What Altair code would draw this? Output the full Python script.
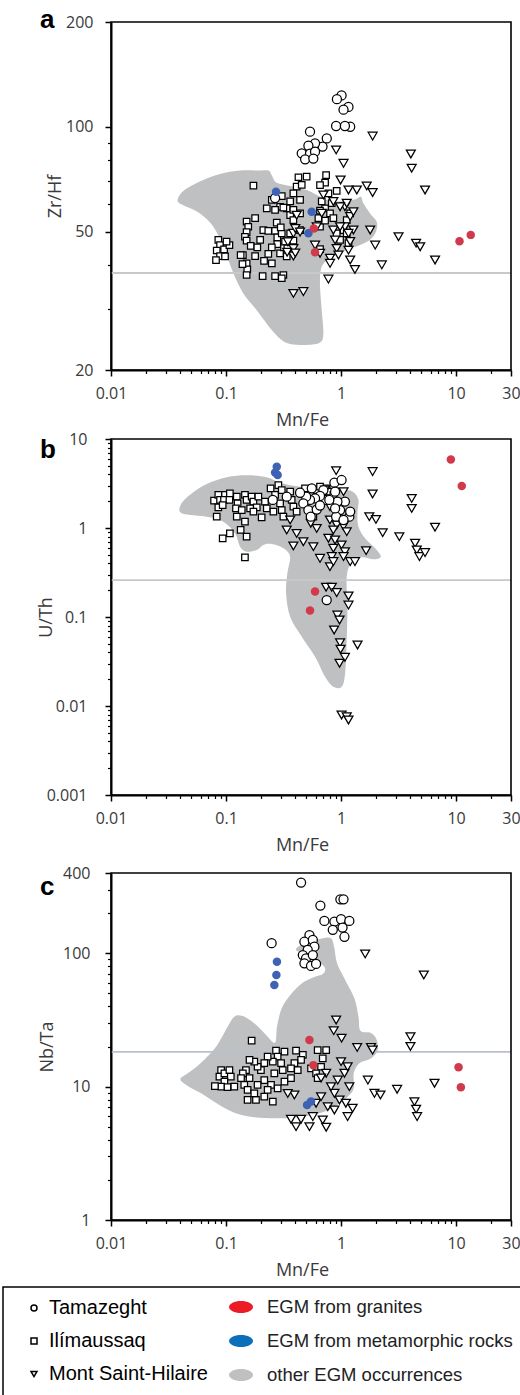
import altair as alt
import pandas as pd

# ---------------------------------------------------------------- categories
sites = ["Tamazeght", "Ilímaussaq", "Mont Saint-Hilaire"]
groups = ["EGM from granites", "EGM from metamorphic rocks", "other EGM occurrences"]

# ---------------------------------------------------------------- panel a : Zr/Hf vs Mn/Fe
a_tam_mnfe = [1.01, 0.92, 1.16, 1.05, 0.905, 1.20, 1.08, 0.537, 0.751, 0.69, 0.594, 0.52, 0.455, 0.537, 0.594, 0.487, 0.574, 0.267]
a_tam_zrhf = [123, 120, 114, 112, 100.5, 100, 100.5, 96.8, 92.6, 87.7, 89.6, 88.2, 83.9, 83.7, 84.8, 80.6, 81, 62.4]
a_ili_mnfe = [0.173, 0.426, 0.502, 0.741, 0.726, 0.656, 0.916, 0.776, 0.411, 0.385, 0.455, 0.361, 0.440, 0.337, 0.295, 0.267,
              0.226, 0.250, 0.305, 0.315, 0.361, 0.385, 0.440, 0.679, 0.726, 0.656, 0.830, 0.802, 0.857, 1.12, 1.20, 1.05,
              0.916, 1.12, 0.98, 1.16, 0.151, 0.156, 0.151, 0.146, 0.151, 0.164, 0.179, 0.211, 0.233, 0.198, 0.187, 0.140,
              0.151, 0.153, 0.179, 0.214, 0.250, 0.276, 0.267, 0.279, 0.279, 0.250, 0.233, 0.295, 0.319, 0.337, 0.326, 0.305,
              0.299, 0.361, 0.385, 0.341, 0.0857, 0.0887, 0.0830, 0.0962, 0.107, 0.101, 0.0887, 0.0818, 0.098, 0.134, 0.139,
              0.151, 0.208, 0.267, 0.315, 0.305, 0.440, 0.656, 0.726, 0.635, 0.656, 0.385]
a_ili_zrhf = [67.7, 71.6, 71.9, 72.6, 69.1, 68.0, 65.4, 64.4, 67.3, 64.4, 68.1, 61.0, 61.6, 58.3, 58.9, 57.7,
              58.3, 61.6, 63.2, 58.6, 55.7, 53.9, 56.4, 61.0, 58.3, 57.4, 60.3, 56.4, 54.6, 53.9, 56.4, 50.5,
              49.4, 49.4, 47.3, 46.3, 53.4, 51.6, 49.8, 48.3, 47.1, 45.5, 54.6, 50.5, 50.2, 47.3, 45.0, 42.8,
              40.5, 38.9, 42.5, 41.2, 40.5, 53.0, 50.2, 48.1, 46.0, 45.0, 43.1, 43.3, 45.0, 42.4, 46.8, 49.4,
              51.4, 49.4, 47.1, 44.7, 47.3, 45.7, 44.1, 44.4, 45.7, 46.8, 42.5, 41.4, 42.4, 42.8, 40.3,
              37.5, 37.2, 37.2, 37.5, 36.7, 50.5, 51.6, 53.7, 54.6, 44.5, 57.7]
a_msh_mnfe = [1.88, 0.906, 1.05, 0.99, 1.37, 1.67, 1.88, 1.16, 0.857, 1.08, 1.20, 1.08, 1.28, 1.79, 1.98, 3.16, 4.49, 4.87,
              2.26, 6.56, 4.04, 4.11, 5.37, 1.32, 1.20, 1.16, 0.916, 0.802, 0.776, 0.802, 0.656, 0.594, 0.385, 0.411,
              0.385, 0.385, 0.385, 0.470, 0.857, 0.98, 1.16, 1.20, 0.887, 0.949, 1.12, 1.28, 0.679, 0.702, 0.98, 0.614,
              0.40, 0.44, 0.345, 0.34, 0.40]
a_msh_zrhf = [94.0, 85.8, 78.5, 70.3, 65.8, 67.6, 64.7, 65.8, 61.0, 58.9, 55.2, 51.6, 50.5, 50.5, 45.7, 48.3, 46.3, 45.2,
              40.1, 41.4, 83.5, 76.0, 65.8, 38.9, 41.4, 44.2, 44.7, 41.9, 36.5, 40.5, 43.3, 45.7, 49.4, 55.7,
              44.7, 42.5, 33.2, 33.6, 50.5, 51.6, 49.4, 46.8, 47.3, 42.8, 60.3, 57.0, 56.4, 63.7, 58.9, 51.6,
              51.0, 49.8, 46.7, 43.6, 43.4]
a_gra_mnfe = [0.594, 0.58, 10.7, 13.4]
a_gra_zrhf = [43.6, 51.0, 46.9, 48.9]
a_met_mnfe = [0.272, 0.555, 0.52]
a_met_zrhf = [65.0, 57.0, 49.4]
# outline of the field of other EGM occurrences (log10 values of the vertices)
a_field_log_mnfe = [-1.420, -1.386, -1.313, -1.197, -1.052, -0.878, -0.733, -0.632, -0.603, -0.559, -0.443, -0.299, -0.183,
                    -0.067, 0.107, 0.171, 0.194, 0.252, 0.310, 0.304, 0.252, 0.165, 0.049, -0.067, -0.139, -0.177, -0.183,
                    -0.168, -0.154, -0.183, -0.299, -0.443, -0.516, -0.603, -0.733, -0.849, -0.936, -1.023, -1.110, -1.226,
                    -1.342, -1.406]
a_field_log_zrhf = [1.791, 1.811, 1.828, 1.847, 1.864, 1.874, 1.874, 1.874, 1.861, 1.839, 1.830, 1.818, 1.799,
                    1.785, 1.790, 1.799, 1.780, 1.751, 1.727, 1.699, 1.675, 1.660, 1.646, 1.627, 1.612, 1.588, 1.540,
                    1.473, 1.406, 1.380, 1.373, 1.376, 1.387, 1.416, 1.473, 1.521, 1.579, 1.655, 1.713, 1.751,
                    1.770, 1.780]
a_reference = 38.0

# ---------------------------------------------------------------- panel b : U/Th vs Mn/Fe
b_tam_mnfe = [0.875, 1.01, 1.08, 0.98, 1.18, 1.20, 0.906, 0.93, 0.887, 0.741, 0.702, 0.656, 0.594, 0.537, 0.497, 0.470,
              0.52, 0.545, 0.614, 0.656, 0.79, 0.887, 1.05, 0.556, 0.44, 0.255, 0.337, 0.75]
b_tam_uth = [3.23, 3.46, 1.98, 1.59, 1.34, 1.53, 1.34, 1.98, 2.56, 2.07, 2.67, 2.29, 2.15, 2.07, 2.25, 1.89,
             1.59, 1.34, 1.61, 1.79, 2.07, 1.66, 1.23, 2.79, 2.49, 2.07, 2.25, 0.155]
b_ili_mnfe = [0.0787, 0.0857, 0.0887, 0.098, 0.108, 0.096, 0.107, 0.0857, 0.083, 0.0935, 0.0935, 0.108, 0.134, 0.146, 0.151,
              0.146, 0.124, 0.126, 0.122, 0.124, 0.146, 0.151, 0.167, 0.173, 0.191, 0.185, 0.162, 0.204, 0.218, 0.226,
              0.244, 0.267, 0.285, 0.258, 0.295, 0.305, 0.315, 0.361, 0.372, 0.385, 0.411, 0.486, 0.574, 0.614, 0.702,
              0.75, 0.80, 0.857, 0.305, 0.173, 0.137, 0.656]
b_ili_uth = [2.03, 2.35, 2.07, 2.35, 2.45, 2.07, 2.07, 1.71, 1.34, 1.81, 0.766, 0.871, 0.95, 1.18, 0.80,
             0.468, 2.25, 1.89, 1.66, 1.34, 2.35, 2.07, 2.25, 1.98, 2.25, 1.71, 1.66, 1.32, 1.98, 1.66,
             2.79, 2.35, 3.04, 1.53, 1.89, 1.59, 1.34, 2.56, 2.07, 1.74, 1.53, 2.79, 1.34, 2.67, 2.25,
             2.79, 2.56, 2.35, 2.67, 1.53, 1.59, 2.91]
b_msh_mnfe = [0.906, 1.88, 1.88, 4.11, 4.11, 1.76, 2.01, 2.30, 3.21, 6.56, 4.40, 4.55, 4.80, 5.37, 1.65, 1.05, 0.726,
              0.80, 0.80, 0.916, 1.05, 1.12, 0.857, 0.776, 0.887, 1.01, 0.857, 1.08, 0.83, 0.80, 0.857, 1.05, 1.20,
              1.32, 0.656, 0.574, 0.614, 0.545, 0.47, 0.385, 0.411, 0.337, 0.361, 0.741, 0.83, 0.916, 1.16, 1.16,
              0.93, 0.97, 0.87, 0.98, 0.99, 1.08, 0.97, 1.39, 1.01, 1.12, 1.16]
b_msh_uth = [4.41, 4.30, 2.41, 2.15, 1.66, 1.34, 1.25, 0.886, 0.80, 1.02, 0.673, 0.566, 0.477, 0.529, 0.556, 2.56, 2.67,
             1.74, 1.23, 1.08, 1.05, 0.91, 0.95, 0.766, 0.733, 0.644, 0.592, 0.542, 0.477, 0.368, 0.419, 0.477, 0.419,
             0.419, 0.456, 0.617, 0.99, 1.13, 0.701, 0.628, 0.87, 0.95, 1.23, 0.216, 0.216, 0.188, 0.172, 0.136,
             0.105, 0.0925, 0.0714, 0.0515, 0.0434, 0.0352, 0.0302, 0.0484, 0.00792, 0.00759, 0.00696]
b_gra_mnfe = [9.0, 11.2, 0.594, 0.537]
b_gra_uth = [5.9, 2.97, 0.193, 0.118]
b_met_mnfe = [0.276, 0.267, 0.281]
b_met_uth = [4.89, 4.19, 3.95]
b_field_log_mnfe = [-1.406, -1.377, -1.290, -1.168, -0.994, -0.820, -0.646, -0.516, -0.357, -0.183, -0.009, 0.101, 0.151,
                    0.142, 0.151, 0.209, 0.296, 0.345, 0.281, 0.180, 0.093, 0.049, 0.055, 0.049, 0.035, 0.006, -0.067,
                    -0.139, -0.226, -0.342, -0.443, -0.478, -0.467, -0.443, -0.501, -0.603, -0.675, -0.733, -0.820,
                    -0.878, -0.922, -1.023, -1.168, -1.313, -1.386]
b_field_log_uth = [0.210, 0.296, 0.397, 0.494, 0.569, 0.592, 0.569, 0.502, 0.464, 0.446, 0.434, 0.408, 0.315,
                   0.165, 0.015, -0.116, -0.228, -0.322, -0.352, -0.330, -0.378, -0.547, -0.884, -1.258, -1.633, -1.783,
                   -1.783, -1.670, -1.446, -1.221, -0.996, -0.734, -0.509, -0.322, -0.228, -0.180, -0.191, -0.247,
                   -0.266, -0.210, -0.060, 0.071, 0.127, 0.146, 0.165]
b_reference = 0.26

# ---------------------------------------------------------------- panel c : Nb/Ta vs Mn/Fe
c_tam_mnfe = [0.449, 0.661, 0.986, 1.05, 0.716, 0.875, 1.0, 1.18, 0.847, 1.03, 1.07, 0.249, 0.531, 0.48, 0.568, 0.586,
              0.513, 0.465, 0.496, 0.568, 0.48, 0.548, 0.606]
c_tam_nbta = [339, 228, 254, 254, 175, 173, 180, 175, 150, 156, 133, 119, 137, 122, 126, 112,
              106, 97, 91.6, 97, 84.1, 80.4, 83.2]
c_ili_mnfe = [0.167, 0.272, 0.322, 0.406, 0.465, 0.449, 0.393, 0.367, 0.42, 0.281, 0.255, 0.230, 0.215, 0.201, 0.188,
              0.176, 0.160, 0.149, 0.160, 0.140, 0.135, 0.144, 0.154, 0.154, 0.182, 0.215, 0.255, 0.246, 0.215, 0.188,
              0.176, 0.230, 0.281, 0.322, 0.367, 0.311, 0.263, 0.301, 0.0906, 0.0876, 0.0968, 0.107, 0.110, 0.0968,
              0.0906, 0.080, 0.103, 0.118, 0.626, 0.693, 0.742, 0.670, 0.548, 0.606, 0.626]
c_ili_nbta = [22.1, 18.6, 18.3, 18.6, 17.3, 15.9, 15.0, 13.7, 13.3, 16.8, 15.4, 16.8, 15.0, 13.3, 14.1,
              15.4, 15.9, 13.3, 11.6, 12.6, 11.6, 10.3, 9.44, 7.95, 7.95, 8.41, 7.73, 10.3, 11.2, 10.3,
              8.91, 9.44, 9.72, 10.9, 11.6, 13.3, 12.6, 15.0, 13.3, 11.9, 12.6, 13.3, 11.9, 10.9,
              10.0, 10.1, 9.9, 10.0, 18.8, 16.3, 18.8, 14.1, 13.7, 12.6, 11.6]
c_msh_mnfe = [1.62, 5.24, 0.906, 0.863, 1.01, 1.38, 1.82, 1.88, 4.01, 4.01, 1.71, 1.95, 2.20, 3.07, 6.49, 4.34, 4.49,
              4.58, 0.606, 0.670, 0.766, 0.875, 0.969, 1.10, 1.26, 1.14, 0.875, 0.818, 0.935, 1.07, 1.14, 1.0, 0.742,
              0.670, 1.18, 0.367, 0.406, 0.449, 0.531, 0.568, 0.693, 0.742, 0.393, 0.344]
c_msh_nbta = [98.9, 68.8, 31.6, 26.3, 23.1, 19.7, 19.7, 18.8, 23.7, 20.0, 11.2, 8.91, 8.66, 9.55, 10.6, 7.72, 6.78,
              5.96, 7.5, 8.4, 7.08, 6.68, 7.94, 7.5, 6.89, 5.96, 8.91, 10.0, 11.2, 12.6, 14.1, 15.4, 12.6,
              11.6, 10.0, 5.69, 5.01, 5.69, 5.01, 5.96, 5.62, 4.96, 8.66, 8.9]
c_gra_mnfe = [0.531, 0.574, 10.5, 11.0]
c_gra_nbta = [22.4, 14.5, 14.0, 9.9]
c_met_mnfe = [0.277, 0.274, 0.263, 0.506, 0.548]
c_met_nbta = [86.5, 68.7, 57.8, 7.29, 7.73]
c_field_log_mnfe = [-1.397, -1.333, -1.217, -1.087, -0.986, -0.928, -0.855, -0.754, -0.652, -0.574, -0.557, -0.516,
                    -0.441, -0.348, -0.238, -0.159, -0.139, -0.188, -0.290, -0.391, -0.333, -0.232, -0.159, -0.087,
                    -0.058, -0.035, 0.043, 0.116, 0.151, 0.168, 0.255, 0.304, 0.319, 0.261, 0.159, 0.110, 0.110,
                    0.058, -0.058, -0.174, -0.348, -0.522, -0.754, -0.928, -1.072, -1.217, -1.333]
c_field_log_nbta = [1.055, 1.100, 1.180, 1.300, 1.450, 1.525, 1.530, 1.475, 1.388, 1.330, 1.450, 1.588,
                    1.687, 1.770, 1.820, 1.845, 1.887, 1.930, 1.987, 2.025, 2.070, 2.095, 2.112, 2.112,
                    2.037, 1.925, 1.787, 1.662, 1.525, 1.420, 1.405, 1.363, 1.275, 1.213, 1.175, 1.100, 0.988,
                    0.925, 0.850, 0.805, 0.775, 0.763, 0.770, 0.805, 0.870, 0.950, 1.005]
c_reference = 18.2

# ---------------------------------------------------------------- tick values
x_major = [0.01, 0.1, 1, 10, 30]
x_minor = [0.02, 0.03, 0.04, 0.05, 0.06, 0.07, 0.08, 0.09, 0.2, 0.3, 0.4, 0.5, 0.6, 0.7, 0.8, 0.9,
           2, 3, 4, 5, 6, 7, 8, 9, 20]
a_y_major = [20, 50, 100, 200]
a_y_minor = [30, 40, 60, 70, 80, 90]
b_y_major = [0.001, 0.01, 0.1, 1, 10]
b_y_minor = [k * m for m in (0.001, 0.01, 0.1, 1) for k in (2, 3, 4, 5, 6, 7, 8, 9)]
c_y_major = [1, 10, 100, 400]
c_y_minor = [2, 3, 4, 5, 6, 7, 8, 9, 20, 30, 40, 50, 60, 70, 80, 90, 200, 300]

# ---------------------------------------------------------------- styling / layout
W, H = 400, 1373
LABEL_FONT = "Open Sans"
LEG_FONT = "Liberation Sans"
RED_PT, BLUE_PT = "#d13a4b", "#3e63b5"
LEG_COLORS = ["#ec1c24", "#0b6fba", "#bfc0c2"]
XS = alt.Scale(type="log", domain=[0.01, 30], nice=False)
SHAPE_SCALE = alt.Scale(domain=sites, range=["circle", "square", "triangle-down"])
SITE_SIZE = {"Tamazeght": 82, "Ilímaussaq": 42, "Mont Saint-Hilaire": 80}
FILL_SCALE = alt.Scale(domain=groups, range=LEG_COLORS)
ELLIPSE = "M-1,0A1,0.5 0 1,1 1,0A1,0.5 0 1,1 -1,0Z"

SHAPE_LEGEND = alt.Legend(orient="none", legendX=-87, legendY=1276, direction="vertical", title=None,
                          symbolType="circle", symbolSize=36, padding=0, rowPadding=13, labelOffset=5,
                          labelFont=LEG_FONT, labelFontSize=20, labelColor="black", labelLimit=400)
FILL_LEGEND = alt.Legend(orient="none", legendX=118, legendY=1273, direction="vertical", title=None,
                         symbolType=ELLIPSE, symbolSize=576, symbolStrokeWidth=0, padding=0,
                         rowPadding=12, labelOffset=14, labelFont=LEG_FONT, labelFontSize=18.5,
                         labelColor="#222222", labelLimit=400)


def panel(letter, ytitle, ydomain, yrange, ymajor, yminor, ref, field_lx, field_ly,
          tam, ili, msh, gra, met, ylabpad, ytitlex, letter_dy, ref_color):
    ys = alt.Scale(type="log", domain=ydomain, range=yrange, nice=False)
    xoff = yrange[0] - H

    major_x = alt.Axis(orient="bottom", offset=xoff, values=x_major, format="~g", tickSize=6,
                       labelPadding=9, labelFlush=False, labelOverlap=False, title="Mn/Fe",
                       titleX=191, titleY=55, titleAlign="center", titleBaseline="alphabetic")
    minor_x = alt.Axis(orient="bottom", offset=xoff, values=x_minor, labels=False, domain=False,
                       tickSize=3.5, tickWidth=1.2, title=None)
    major_y = alt.Axis(orient="left", values=ymajor, format="~g", tickSize=6, labelPadding=ylabpad,
                       labelFlush=False, labelOverlap=False, title=ytitle, titleX=ytitlex,
                       titleBaseline="middle", titleAlign="center")
    minor_y = alt.Axis(orient="left", values=yminor, labels=False, domain=False, tickSize=3.5,
                       tickWidth=1.2, title=None)

    field_df = pd.DataFrame({
        "mnfe": [10 ** v for v in field_lx],
        "ratio": [10 ** v for v in field_ly],
        "i": list(range(len(field_lx))),
        "group": groups[2],
    })
    field = alt.Chart(field_df).mark_line(interpolate="cardinal-closed", strokeWidth=0).encode(
        x=alt.X("mnfe:Q", scale=XS, axis=major_x),
        y=alt.Y("ratio:Q", scale=ys, axis=major_y),
        order="i:Q",
        fill=alt.Fill("group:N", scale=FILL_SCALE, legend=FILL_LEGEND),
    )

    ref_line = alt.Chart(pd.DataFrame({"ratio": [ref]})).mark_rule(color=ref_color, strokeWidth=1.8).encode(
        y=alt.Y("ratio:Q", scale=ys, axis=minor_y)
    )

    frame = alt.Chart(pd.DataFrame({"x0": [0.01], "x1": [30], "y0": [ydomain[0]], "y1": [ydomain[1]]})).mark_rect(
        fill="transparent", stroke="black", strokeWidth=1.6
    ).encode(
        x=alt.X("x0:Q", scale=XS, axis=minor_x), x2="x1:Q",
        y=alt.Y("y0:Q", scale=ys, axis=None), y2="y1:Q",
    )

    def site_layer(site, xs_, ys_):
        return alt.Chart(pd.DataFrame({"mnfe": xs_, "ratio": ys_, "site": site})).mark_point(
            fill="white", stroke="black", strokeWidth=1.25, opacity=1, fillOpacity=1, size=SITE_SIZE[site]
        ).encode(
            x=alt.X("mnfe:Q", scale=XS, axis=None),
            y=alt.Y("ratio:Q", scale=ys, axis=None),
            shape=alt.Shape("site:N", scale=SHAPE_SCALE, legend=SHAPE_LEGEND),
        )

    ili_l = site_layer(sites[1], *ili)
    msh_l = site_layer(sites[2], *msh)
    tam_l = site_layer(sites[0], *tam)

    gra_pts = alt.Chart(pd.DataFrame({"mnfe": gra[0], "ratio": gra[1]})).mark_circle(
        size=72, color=RED_PT, opacity=1).encode(
        x=alt.X("mnfe:Q", scale=XS, axis=None), y=alt.Y("ratio:Q", scale=ys, axis=None))
    met_pts = alt.Chart(pd.DataFrame({"mnfe": met[0], "ratio": met[1]})).mark_circle(
        size=72, color=BLUE_PT, opacity=1).encode(
        x=alt.X("mnfe:Q", scale=XS, axis=None), y=alt.Y("ratio:Q", scale=ys, axis=None))

    tag = alt.Chart(pd.DataFrame({"mnfe": [0.01], "ratio": [ydomain[1]], "lab": [letter]})).mark_text(
        align="left", baseline="alphabetic", dx=-71, dy=letter_dy, font=LEG_FONT, fontSize=26,
        fontWeight="bold", color="black").encode(
        x=alt.X("mnfe:Q", scale=XS, axis=None), y=alt.Y("ratio:Q", scale=ys, axis=None), text="lab:N")

    return alt.layer(field, ref_line, frame, ili_l, msh_l, tam_l, met_pts, gra_pts, tag).resolve_axis(
        x="independent", y="independent")


pa = panel("a", "Zr/Hf", [20, 200], [348, 0], a_y_major, a_y_minor, a_reference,
           a_field_log_mnfe, a_field_log_zrhf,
           (a_tam_mnfe, a_tam_zrhf), (a_ili_mnfe, a_ili_zrhf), (a_msh_mnfe, a_msh_zrhf),
           (a_gra_mnfe, a_gra_zrhf), (a_met_mnfe, a_met_zrhf), 12, -56, 6, "#c9c9c9")
pb = panel("b", "U/Th", [0.001, 10], [773, 417], b_y_major, b_y_minor, b_reference,
           b_field_log_mnfe, b_field_log_uth,
           (b_tam_mnfe, b_tam_uth), (b_ili_mnfe, b_ili_uth), (b_msh_mnfe, b_msh_uth),
           (b_gra_mnfe, b_gra_uth), (b_met_mnfe, b_met_uth), 18, -65, 19, "#c9c9c9")
pc = panel("c", "Nb/Ta", [1, 400], [1198, 851], c_y_major, c_y_minor, c_reference,
           c_field_log_mnfe, c_field_log_nbta,
           (c_tam_mnfe, c_tam_nbta), (c_ili_mnfe, c_ili_nbta), (c_msh_mnfe, c_msh_nbta),
           (c_gra_mnfe, c_gra_nbta), (c_met_mnfe, c_met_nbta), 15, -64, 22, "#b9bfcc")

legend_box = alt.Chart(pd.DataFrame({"k": [0]})).mark_rect(
    fill="transparent", stroke="black", strokeWidth=1.5).encode(
    x=alt.value(-108), x2=alt.value(440), y=alt.value(1265), y2=alt.value(1420))

chart = alt.layer(pa, pb, pc, legend_box).resolve_scale(
    y="independent"
).resolve_axis(
    x="independent", y="independent"
).properties(
    width=W, height=H,
    autosize=alt.AutoSizeParams(type="none"),
    padding={"left": 111, "top": 22, "right": 9, "bottom": 0},
).configure_view(
    stroke=None
).configure_axis(
    grid=False, domainColor="black", domainWidth=2, tickColor="black", tickWidth=1.5,
    labelFont=LABEL_FONT, labelFontSize=16, labelColor="#3a3a3a",
    titleFont=LABEL_FONT, titleFontSize=18, titleFontWeight="normal", titleColor="#3a3a3a",
)

chart.save("out.html", embed_options={"renderer": "svg", "actions": False})
